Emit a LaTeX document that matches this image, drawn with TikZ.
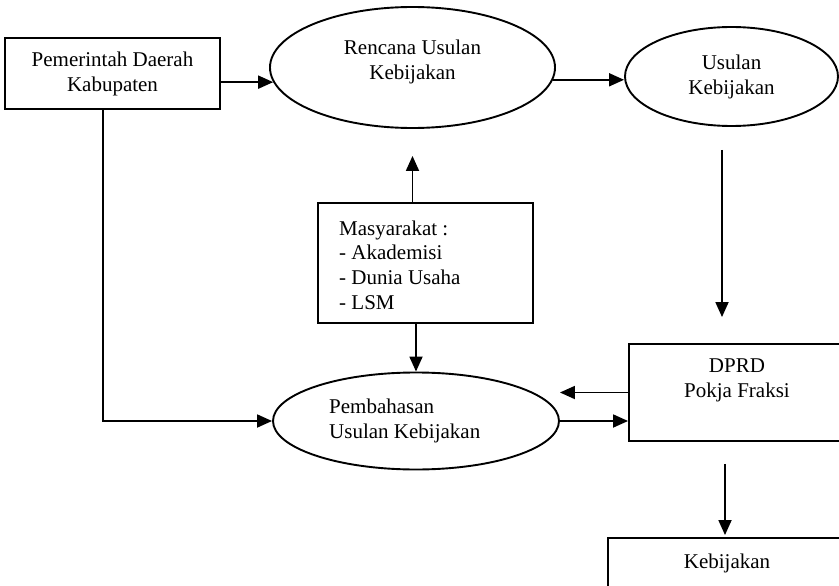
\documentclass[tikz,border=0pt]{standalone}
\usepackage{fontspec}
\setmainfont{Liberation Serif}
\usetikzlibrary{arrows.meta,shapes.geometric}
\begin{document}
\begin{tikzpicture}[x=1pt,y=-1pt,
  every node/.style={font=\fontsize{21}{25}\selectfont},
  box/.style={draw, line width=1.9pt, rectangle, inner sep=0pt, align=center},
  ell/.style={draw, line width=1.9pt, ellipse, inner sep=0pt, align=center},
  txt/.style={inner sep=0pt, align=center},
  ltxt/.style={inner sep=0pt, align=left, anchor=west},
  arr/.style={line width=1.8pt, -{Triangle[length=15pt,width=13pt]}}]
\useasboundingbox (0,0) rectangle (839,586);
% nodes
\node[box, minimum width=215pt, minimum height=71pt] (pdk) at (112.5,73.5) {Pemerintah Daerah\\Kabupaten};
\node[ell, minimum width=285pt, minimum height=121pt] (e1) at (412.5,67.5) {};
\node[txt] (e1t) at (412.5,62) {Rencana Usulan\\Kebijakan};
\node[ell, minimum width=213pt, minimum height=99pt] (e2) at (731.5,76.5) {Usulan\\Kebijakan};
\node[box, minimum width=215pt, minimum height=120pt] (masy) at (425.5,263) {};
\node[ltxt, font=\fontsize{21}{24.7}\selectfont] (masyt) at (339,265) {Masyarakat :\\- Akademisi\\- Dunia Usaha\\- LSM};
\node[ell, minimum width=286pt, minimum height=97pt] (pemb) at (416,421) {};
\node[ltxt] (pembt) at (329,421) {Pembahasan\\Usulan Kebijakan};
\node[box, minimum width=216pt, minimum height=97pt] (dprd) at (737,392.5) {};
\node[txt] (dprdt) at (737,380.5) {DPRD\\Pokja Fraksi};
\node[box, minimum width=238pt, minimum height=50pt] (keb) at (727,563) {Kebijakan};
% connectors
\draw[arr] (pdk.east |- e1.186) -- (e1.186);
\draw[arr] (e1.355) -- (e1.355 -| e2.west);
\draw[arr, shorten <=23pt, shorten >=26pt] ([xshift=-9.5pt]e2.south) -- ([xshift=-9.5pt]e2.south |- dprd.north);
\draw[arr, shorten >=27pt] (e1.south |- masy.north) -- (e1.south);
\draw[arr] (pemb.north |- masy.south) -- (pemb.north);
\draw[arr] ([xshift=-9.5pt]pdk.south) |- (pemb.west);
\draw[arr] (dprd.west) -- (pemb.east |- dprd.west);
\draw[arr] (pemb.east) -- (dprd.west |- pemb.east);
\draw[arr, shorten <=22pt, shorten >=2pt] ([xshift=-2pt]keb.north |- dprd.south) -- ([xshift=-2pt]keb.north);
\end{tikzpicture}
\end{document}
